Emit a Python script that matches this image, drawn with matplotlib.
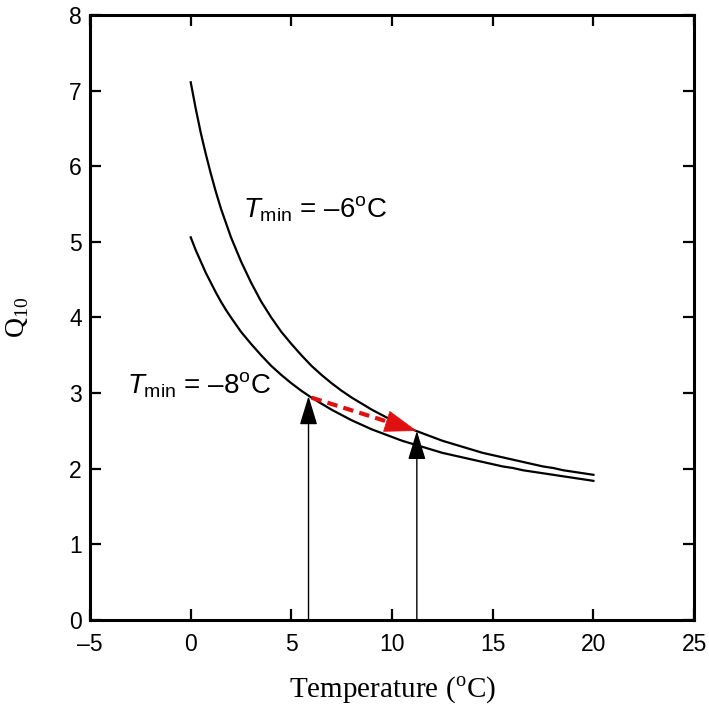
import matplotlib
matplotlib.use("Agg")
import matplotlib.pyplot as plt

plt.rcParams['mathtext.fontset'] = 'custom'
plt.rcParams['mathtext.it'] = 'Liberation Sans:italic'
plt.rcParams['mathtext.rm'] = 'Liberation Sans'

# Data
temp = [0, 0.25, 0.5, 0.75, 1, 1.25, 1.5, 1.75, 2, 2.5, 3, 3.5, 4, 4.5, 5, 5.5, 6, 6.5, 7, 7.5,
        8, 8.5, 9, 9.5, 10, 10.5, 11, 11.5, 12, 12.5, 13, 13.5, 14, 14.5, 15, 15.5, 16, 16.5,
        17, 17.5, 18, 18.5, 19, 19.5, 20]
q10_tmin6 = [7.11, 6.76, 6.44, 6.16, 5.90, 5.66, 5.44, 5.25, 5.06, 4.74, 4.46, 4.21, 4.00, 3.81,
             3.65, 3.50, 3.36, 3.24, 3.13, 3.03, 2.94, 2.86, 2.78, 2.71, 2.64, 2.58, 2.52, 2.47,
             2.42, 2.37, 2.33, 2.29, 2.25, 2.21, 2.18, 2.15, 2.12, 2.09, 2.06, 2.03, 2.01, 1.98,
             1.96, 1.94, 1.92]
q10_tmin8 = [5.06, 4.89, 4.74, 4.59, 4.46, 4.33, 4.21, 4.10, 4.00, 3.81, 3.65, 3.50, 3.36, 3.24,
             3.13, 3.03, 2.94, 2.86, 2.78, 2.71, 2.64, 2.58, 2.52, 2.47, 2.42, 2.37, 2.33, 2.29,
             2.25, 2.21, 2.18, 2.15, 2.12, 2.09, 2.06, 2.03, 2.01, 1.98, 1.96, 1.94, 1.92, 1.90,
             1.88, 1.86, 1.84]
arrow1 = (5.85, 2.96)
arrow2 = (11.23, 2.50)
shift_start = (6.0, 2.94)

fig = plt.figure(figsize=(7.09, 7.06), dpi=100)
ax = fig.add_axes([0.127, 0.1218, 0.852, 0.857])

ax.plot(temp, q10_tmin6, color='black', lw=1.6)
ax.plot(temp, q10_tmin8, color='black', lw=1.6)

for (x, y) in (arrow1, arrow2):
    ax.annotate('', xy=(x, y), xytext=(x, 0),
                arrowprops=dict(arrowstyle='-|>,head_length=1.8,head_width=0.55',
                                color='black', lw=1.0, mutation_scale=10,
                                shrinkA=0, shrinkB=0))

# red dashed shift arrow: dashed shaft + solid head
f_shaft = 0.78
f_head = 0.74
xs = [shift_start[0], shift_start[0] + f_shaft * (arrow2[0] - shift_start[0])]
ys = [shift_start[1], shift_start[1] + f_shaft * (arrow2[1] - shift_start[1])]
ax.plot(xs, ys, color='#e01010', lw=3.0, linestyle=(0, (2.5, 1.5)),
        dash_capstyle='butt')
hx = shift_start[0] + f_head * (arrow2[0] - shift_start[0])
hy = shift_start[1] + f_head * (arrow2[1] - shift_start[1])
ax.annotate('', xy=arrow2, xytext=(hx, hy),
            arrowprops=dict(arrowstyle='-|>,head_length=2.2,head_width=0.75',
                            color='#e01010', lw=0.5, mutation_scale=10,
                            shrinkA=0, shrinkB=0))

ax.text(2.6, 5.43, r'$\mathit{T}_{\mathrm{min}}$ = –6$^{\mathrm{o}}$C',
        fontsize=20, family='Liberation Sans', va='center', ha='left')
ax.text(-3.15, 3.1, r'$\mathit{T}_{\mathrm{min}}$ = –8$^{\mathrm{o}}$C',
        fontsize=20, family='Liberation Sans', va='center', ha='left')

ax.set_xlim(-5, 25)
ax.set_ylim(0, 8)
ax.set_xticks([-5, 0, 5, 10, 15, 20, 25])
ax.set_xticklabels(['–5', '0', '5', '10', '15', '20', '25'])
ax.set_yticks(range(0, 9))

ax.tick_params(direction='in', length=8, width=1.6, top=True, right=True,
               labelsize=16.5)
ax.tick_params(axis='x', pad=9)
ax.tick_params(axis='y', pad=6)
for lab in ax.get_xticklabels() + ax.get_yticklabels():
    lab.set_family('Liberation Sans')
for sp in ax.spines.values():
    sp.set_linewidth(2.2)

ax.set_xlabel(r'Temperature ($^{\mathregular{o}}$C)', fontsize=21,
              family='Liberation Serif', labelpad=14)
ax.set_ylabel(r'Q$_{\mathregular{10}}$', fontsize=20, family='Liberation Serif',
              labelpad=27)

fig.savefig('out.png', dpi=100)
